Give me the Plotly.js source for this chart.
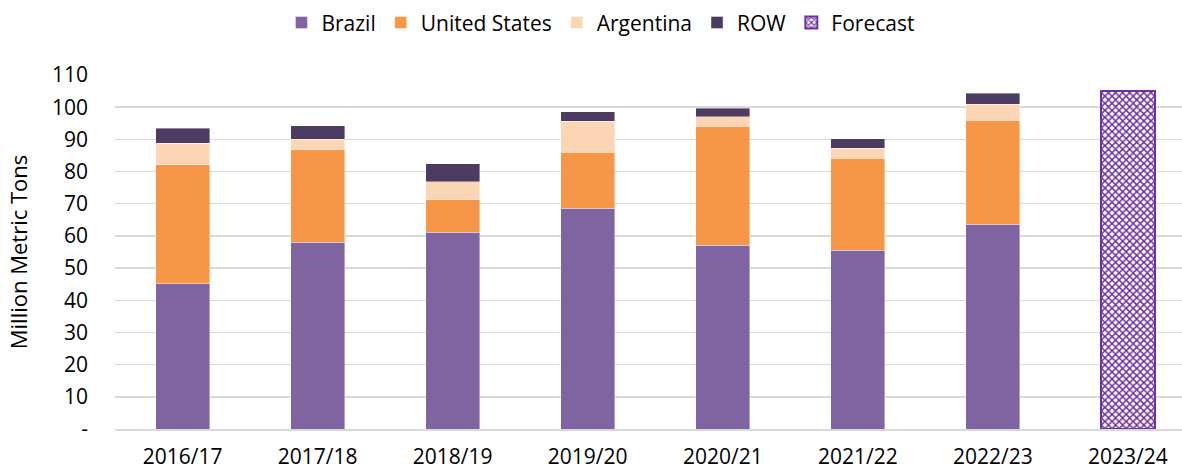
<!DOCTYPE html>
<html>
<head>
<meta charset="utf-8">
<script src="https://cdn.plot.ly/plotly-3.0.1.min.js"></script>
<style>html,body{margin:0;padding:0;background:#fff;}#chart{width:1182px;height:470px;}</style>
</head>
<body>
<div id="chart"></div>
<script>
const years = ['2016/17','2017/18','2018/19','2019/20','2020/21','2021/22','2022/23','2023/24'];
const brazil = [45.2, 58.0, 61.1, 68.6, 57.1, 55.5, 63.6, null];
const unitedStates = [36.9, 28.8, 10.2, 17.4, 36.9, 28.7, 32.3, null];
const argentina = [6.7, 3.2, 5.5, 9.6, 3.1, 3.0, 5.0, null];
const row = [4.7, 4.2, 5.7, 3.0, 2.6, 3.0, 3.4, null];
const forecast = [null, null, null, null, null, null, null, 105.1];
const yTickVals = [0,10,20,30,40,50,60,70,80,90,100,110];
const yTickText = ['-','10','20','30','40','50','60','70','80','90','100','110'];

const FONT = 'Open Sans, Calibri, Carlito, sans-serif';
function seg(name, y, color) {
  return {type:'bar', name:name, x:years, y:y,
    marker:{color:color, line:{color:'rgba(255,255,255,0.5)', width:0.8}},
    hoverinfo:'x+y+name'};
}
const traces = [
  seg('Brazil', brazil, '#8064A2'),
  seg('United States', unitedStates, '#F79646'),
  seg('Argentina', argentina, '#FCD5B5'),
  seg('ROW', row, '#4E3B62'),
  {type:'bar', name:'Forecast', x:years, y:forecast,
    marker:{color:'#ffffff', line:{color:'#7030A0', width:2},
      pattern:{shape:'x', fgcolor:'#7030A0', bgcolor:'#ffffff', size:5, solidity:0.5}}}
];
const layout = {
  width:1182, height:470,
  margin:{l:115, r:0, t:75, b:40.5},
  paper_bgcolor:'#fff', plot_bgcolor:'#fff',
  barmode:'stack', bargap:0.6,
  font:{family:FONT, size:21, color:'#000'},
  showlegend:true,
  legend:{orientation:'h', x:0.508, xref:'container', xanchor:'center', y:0.995, yanchor:'top', yref:'container',
    font:{family:FONT, size:21, color:'#000'}, traceorder:'normal', itemwidth:30},
  xaxis:{type:'category', range:[-0.5, 7.4], showline:true, linecolor:'#D9D9D9', linewidth:2,
    ticks:'', showgrid:false, ticklabelstandoff:8, tickfont:{family:FONT, size:21}},
  yaxis:{range:[0,110], tickvals:yTickVals, ticktext:yTickText, showgrid:true,
    gridcolor:'#D9D9D9', gridwidth:1.5, zeroline:false, ticks:'', ticklabelstandoff:26,
    tickfont:{family:FONT, size:21},
    title:{text:'Million Metric Tons', font:{family:FONT, size:22}, standoff:18}}
};
Plotly.newPlot('chart', traces, layout, {displayModeBar:false, staticPlot:true});
</script>
</body>
</html>
